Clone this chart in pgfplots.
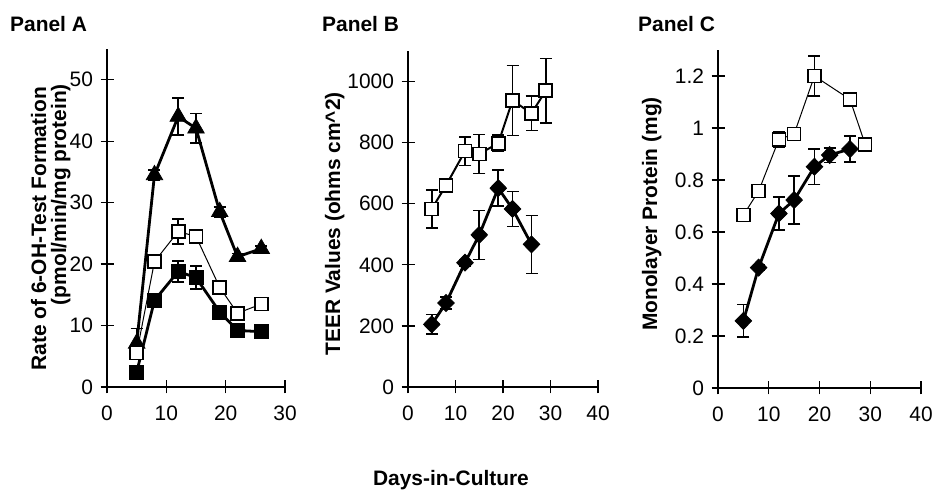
\documentclass[border=0pt]{standalone}
\usepackage{fontspec}
\setmainfont{Liberation Sans}
\usepackage{pgfplots}
\pgfplotsset{compat=1.18}

\pgfplotsset{
    panel/.style={
        scale only axis,
        anchor=south west,
        axis lines=left,
        axis line style={-, line width=1.3bp, black},
        xmin=0, ymin=0,
        tick align=center,
        major tick length=13bp,
        tick style={line width=1.2bp, black},
        ticklabel style={font=\fontsize{21}{24}\selectfont},
        yticklabel style={xshift=-4bp},
        xticklabel style={yshift=-9bp},
        /pgf/number format/assume math mode=true,
        /pgf/number format/1000 sep={},
        clip=false,
    },
    thick series/.style={black, line width=2.8bp},
    thin series/.style={black, line width=1bp},
    open sq/.style={mark=square*, mark size=6.5bp,
        mark options={fill=white, draw=black, line width=1.6bp, solid}},
    filled sq/.style={mark=square*, mark size=7bp,
        mark options={fill=black, draw=black, line width=0.8bp, solid}},
    tri/.style={mark=triangle*, mark size=9.5bp,
        mark options={fill=black, draw=black, line width=0.8bp, solid}},
    dia/.style={mark=diamond*, mark size=8.5bp,
        mark options={fill=black, draw=black, line width=0.8bp, solid, xscale=1.3}},
    ebars/.style={
        error bars/.cd, y dir=both, y explicit,
        error bar style={line width=1.6bp, black, solid},
        error mark=-,
        error mark options={rotate=90, line width=1.6bp, mark size=6bp, black},
    },
}

\begin{document}
\begin{tikzpicture}[x=1bp, y=1bp]
\useasboundingbox (0,0) rectangle (934,491);

% ---------------- Panel A ----------------
\begin{axis}[panel, at={(107bp,104bp)}, width=178bp, height=338bp,
    xmax=30, ymax=55, xtick={0,10,20,30}, ytick={0,10,20,30,40,50}]
\addplot[thick series, tri, ebars] coordinates {
    (5,7.1) +- (0,2.4)
    (8,34.5) +- (0,0.8)
    (12,44) +- (0,3)
    (15,42.1) +- (0,2.4)
    (19,28.5) +- (0,0.8)
    (22,21.2) +- (0,0.5)
    (26,22.5) +- (0,0.4)
};
\addplot[thin series, open sq, ebars] coordinates {
    (5,5.5) +- (0,1)
    (8,20.4) +- (0,1)
    (12,25.3) +- (0,2)
    (15,24.5) +- (0,0.8)
    (19,16.2) +- (0,0.8)
    (22,12.0) +- (0,1)
    (26,13.5) +- (0,0.3)
};
\addplot[thick series, filled sq, ebars] coordinates {
    (5,2.4) +- (0,1)
    (8,14.1) +- (0,0.5)
    (12,18.8) +- (0,1.7)
    (15,17.8) +- (0,1.9)
    (19,12.2) +- (0,0.5)
    (22,9.2) +- (0,0.5)
    (26,9.0) +- (0,0.3)
};
\end{axis}

% ---------------- Panel B ----------------
\begin{axis}[panel, at={(408bp,104bp)}, width=190bp, height=336bp,
    xmax=40, ymax=1100, xtick={0,10,20,30,40}, ytick={0,200,400,600,800,1000}]
\addplot[black, line width=2bp, open sq, ebars] coordinates {
    (5,583) +- (0,62)
    (8,660) +- (0,15)
    (12,772) +- (0,47)
    (15,763) +- (0,64)
    (19,798) +- (0,27)
    (22,938) +- (0,115)
    (26,896) +- (0,56)
    (29,970) +- (0,105)
};
\addplot[thick series, dia, ebars] coordinates {
    (5,205) +- (0,32)
    (8,275) +- (0,19)
    (12,407) +- (0,10)
    (15,498) +- (0,80)
    (19,651) +- (0,59)
    (22,583) +- (0,57)
    (26,467) +- (0,95)
};
\end{axis}

% ---------------- Panel C ----------------
\begin{axis}[panel, at={(718bp,103bp)}, width=203bp, height=338bp,
    xmax=40, ymax=1.3, xtick={0,10,20,30,40}, ytick={0,0.2,0.4,0.6,0.8,1,1.2}]
\addplot[thin series, open sq, ebars] coordinates {
    (5,0.665) +- (0,0.01)
    (8,0.757) +- (0,0.01)
    (12,0.956) +- (0,0.03)
    (15,0.977) +- (0,0.01)
    (19,1.2) +- (0,0.078)
    (26,1.11) +- (0,0.01)
    (29,0.937) +- (0,0.01)
};
\addplot[thick series, dia, ebars] coordinates {
    (5,0.258) +- (0,0.063)
    (8,0.463) +- (0,0.01)
    (12,0.671) +- (0,0.064)
    (15,0.723) +- (0,0.092)
    (19,0.851) +- (0,0.068)
    (22,0.896) +- (0,0.028)
    (26,0.919) +- (0,0.05)
};
\end{axis}

% ---------------- texts ----------------
\begin{scope}[every node/.style={font=\fontsize{21}{24}\selectfont\bfseries, inner sep=0pt}]
\node[anchor=base west] at (10,459) {Panel A};
\node[anchor=base west] at (322,459) {Panel B};
\node[anchor=base west] at (638,459) {Panel C};
\node[rotate=90, anchor=base east] at (46,404) {Rate of 6-OH-Test Formation};
\node[rotate=90, anchor=base east] at (66,407) {(pmol/min/mg protein)};
\node[rotate=90, anchor=base east] at (340,399) {TEER Values (ohms cm\^{}2)};
\node[rotate=90, anchor=base east] at (657,394) {Monolayer Protein (mg)};
\node[anchor=base] at (451,5) {Days-in-Culture};
\end{scope}
\end{tikzpicture}
\end{document}
